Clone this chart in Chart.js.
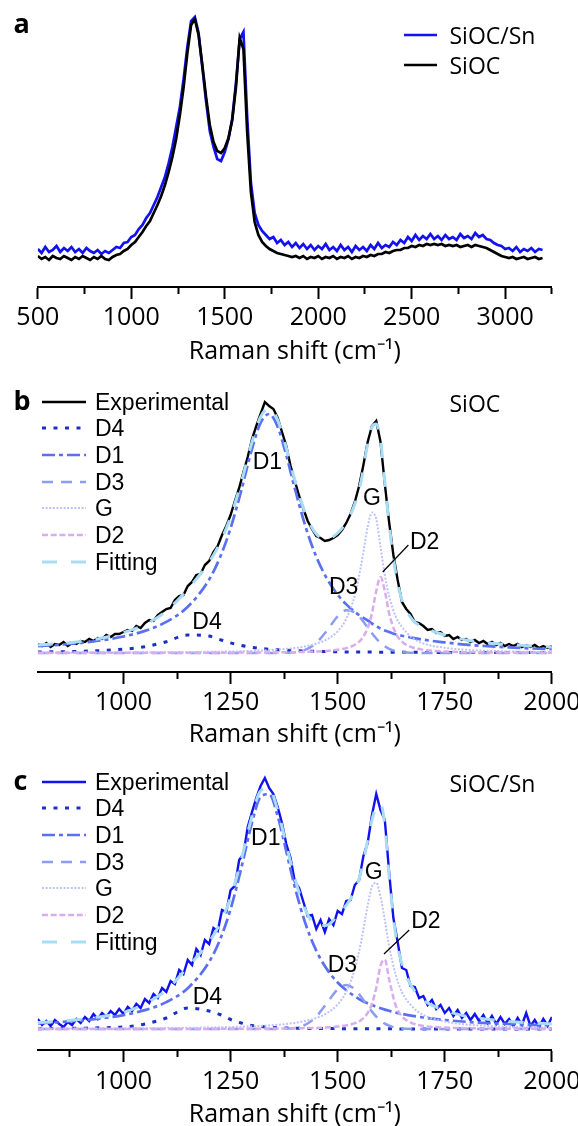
<!DOCTYPE html>
<html lang="en">
<head>
<meta charset="UTF-8">
<title>Raman spectra - SiOC and SiOC/Sn</title>
<script src="https://cdn.jsdelivr.net/npm/chart.js"></script>
<style>
  body { margin: 0; width: 578px; height: 1126px; overflow: hidden; position: relative; background: #fff; color: #000; }
  canvas { position: absolute; left: 0; }
  .tag { position: absolute; font: bold 27px/27px "Open Sans", sans-serif; }
  .name { position: absolute; font: 23px/26px "Open Sans", sans-serif; white-space: nowrap; }
  .leg { position: absolute; display: flex; align-items: center; height: 26px; white-space: nowrap; }
  .leg svg { display: block; }
</style>
</head>
<body>
<canvas id="chartA" width="600" height="367" style="top:0px"></canvas>
<canvas id="chartB" width="600" height="370" style="top:380px"></canvas>
<canvas id="chartC" width="600" height="370" style="top:760px"></canvas>

<div class="tag" style="left:13.5px; top:9px">a</div>
<div class="tag" style="left:13.5px; top:386px">b</div>
<div class="tag" style="left:13.5px; top:766px">c</div>
<div class="name" style="left:449.5px; top:389.7px">SiOC</div>
<div class="name" style="left:449.5px; top:769.7px">SiOC/Sn</div>

<script>
// ---- panel a : full spectra ----
const shiftA = [500,520,540,560,580,600,620,640,660,680,700,720,740,760,780,800,820,840,860,880,900,920,940,960,980,1000,1020,1040,1060,1080,1100,1120,1140,1160,1180,1200,1220,1240,1260,1280,1300,1320,1340,1360,1380,1400,1420,1440,1460,1480,1500,1520,1540,1560,1580,1600,1620,1640,1660,1680,1700,1720,1740,1760,1780,1800,1820,1840,1860,1880,1900,1920,1940,1960,1980,2000,2020,2040,2060,2080,2100,2120,2140,2160,2180,2200,2220,2240,2260,2280,2300,2320,2340,2360,2380,2400,2420,2440,2460,2480,2500,2520,2540,2560,2580,2600,2620,2640,2660,2680,2700,2720,2740,2760,2780,2800,2820,2840,2860,2880,2900,2920,2940,2960,2980,3000,3020,3040,3060,3080,3100,3120,3140,3160,3180,3200];
const siocA = [31,28,30,27,31,29,28,31,29,27, 30,28,31,29,27,30,28,31,28,27, 30,32,33,36,38,42,45,50,55,61, 66,74,82,91,102,115,130,148,172,200, 234,262,268,252,222,190,162,145,136,134, 139,149,167,200,249,238,155,95,65,52, 45,41,38,36,34,33,32,31,30,31, 29,31,28,30,29,31,28,30,29,31, 28,30,29,31,28,30,29,31,30,32, 31,33,33,35,34,36,37,37,39,39, 41,40,42,41,43,42,43,42,43,41, 42,41,42,40,41,42,40,42,41,40, 39,37,35,33,31,30,29,30,28,29, 30,28,29,30,28,29];
const siocSnA = [38,34,40,35,37,41,35,39,36,40, 35,38,34,39,36,34,37,33,36,34, 37,40,39,44,45,50,52,58,62,69, 74,82,90,100,110,124,140,160,180,208, 240,266,270,254,220,186,156,140,128,126, 135,148,168,204,248,255,170,104,74,62, 56,52,48,50,44,47,42,45,40,44, 39,43,38,42,37,41,38,43,37,40, 36,42,37,40,35,41,37,40,36,42, 38,44,39,42,40,45,42,47,44,50, 46,52,47,51,48,53,48,51,47,52, 48,50,47,53,49,51,48,54,50,52, 48,47,44,42,41,38,39,36,40,35, 38,36,39,35,38,37];
const ticksA = [500,750,1000,1250,1500,1750,2000,2250,2500,2750,3000,3250];

// ---- panels b and c : measured spectra ----
const shiftExp = [800,810,820,830,840,850,860,870,880,890,900,910,920,930,940,950,960,970,980,990,1000,1010,1020,1030,1040,1050,1060,1070,1080,1090,1100,1110,1120,1130,1140,1150,1160,1170,1180,1190,1200,1210,1220,1230,1240,1250,1260,1270,1280,1290,1300,1310,1320,1330,1340,1350,1360,1370,1380,1390,1400,1410,1420,1430,1440,1450,1460,1470,1480,1490,1500,1510,1520,1530,1540,1550,1560,1570,1580,1590,1600,1610,1620,1630,1640,1650,1660,1670,1680,1690,1700,1710,1720,1730,1740,1750,1760,1770,1780,1790,1800,1810,1820,1830,1840,1850,1860,1870,1880,1890,1900,1910,1920,1930,1940,1950,1960,1970,1980,1990,2000];
const expB = [28,26,29,25,28,27,30,26,29,28, 31,30,33,31,34,33,37,35,38,38, 40,42,41,46,44,49,52,51,57,60, 63,64,72,76,77,86,90,97,98,107, 111,120,126,137,146,157,171,184,200,215, 233,246,258,270,266,263,254,240,226,206, 191,176,163,151,143,136,134,131,132,134, 137,142,149,158,170,186,207,230,246,251, 230,188,150,117,92,70,63,58,50,49, 46,42,43,39,40,36,37,33,35,32, 33,30,32,29,31,28,30,27,29,26, 28,26,28,25,27,25,27,24,26,24, 26];
const expC = [31,25,29,24,30,26,23,28,25,31, 27,33,29,36,31,37,33,39,35,41, 36,43,39,46,42,51,47,56,52,62, 58,69,66,80,76,90,85,101,95,110, 106,122,119,140,138,160,164,190,196,223, 238,252,264,272,262,256,243,227,206,192, 168,162,148,134,135,121,130,118,131,125, 139,136,149,150,165,170,194,207,235,256, 240,230,178,132,108,82,80,64,63,52, 54,45,50,41,45,37,42,34,40,32, 37,30,36,29,35,27,34,26,33,26, 31,24,32,25,37,24,30,23,31,24, 33];

// ---- fitted components ----
const shiftFit = [800,850,900,950,1000,1050,1100,1150,1200,1225,1250,1275,1300,1320,1340,1360,1380,1400,1425,1450,1475,1500,1520,1540,1555,1570,1580,1590,1600,1610,1620,1635,1650,1675,1700,1750,1800,1850,1900,1950,2000];
const fitB = [27,28.5,30.5,34,39.5,47.5,61,83,110,129,155,190,230,255,264,252,224,192,158,138,133,139,150,168,192,228,245,248,232,190,148,100,72,52,45,37,32,29,27.5,26,25];
const d1B = [25.8,27.2,29.1,31.7,35.5,41.1,50.1,65.2,92.5,114.3,143.8,181.7,223.2,249.2,258,245.1,216.8,183.4,145.2,115.3,93.3,77.3,67.6,60.1,55.4,51.5,48.5,46,43.5,41.5,40,37.8,36.2,34.2,32.3,29.6,27.3,25.8,24.6,23.6,22.8];
const d4B = [20,20.3,20.7,21.5,22.8,25.3,30.3,37,35.9,32.4,29.1,26.5,24.7,23.6,22.8,22.2,21.7,21.3,20.9,20.6,20.4,20.2,20.1,20,20,19.9,19.9,19.9,19.8,19.8,19.8,19.8,19.7,19.7,19.6,19.6,19.5,19.5,19.5,19.4,19.4];
const d3B = [19,19,19,19,19,19,19,19,19,19,19,19,19,19,19,19.1,19.2,19.8,22.3,29.1,41.5,55.6,61.7,59.6,53.1,44.5,38.7,33.5,29.1,25.7,23.2,20.9,19.8,19.2,19,19,19,19,19,19,19];
const gB = [19.3,19.3,19.4,19.4,19.5,19.6,19.7,19.9,20.2,20.3,20.5,20.7,21.1,21.5,21.9,22.4,23.1,24,25.7,28.3,32.6,40.7,53.1,76.8,107.4,145.2,159.6,153,125,97,76,56,45,34,28.5,24.2,22.2,21.2,20.6,20.2,20];
const d2B = [19.2,19.2,19.2,19.2,19.2,19.2,19.2,19.3,19.3,19.3,19.3,19.4,19.4,19.5,19.5,19.6,19.7,19.8,20.1,20.5,21.1,22.2,23.9,27.3,32.6,44,58.8,81,95,81,58.8,39.1,30.4,24.5,22.2,20.5,19.8,19.5,19.4,19.3,19.3];

const fitC = [27.4,28.8,30.8,33.6,37.6,46.3,59.9,83.1,108.3,126.3,152.5,190.5,233.8,259.1,261.6,239.8,205.5,171.5,140,124.4,124.8,134.6,144.8,159.4,179.2,209.6,230.1,243.1,245.9,224.5,174,116,86,62,50,39.6,33.8,30.7,28.6,27.1,26.1];
const d1C = [26.6,27.8,29.4,31.7,34.9,39.9,47.9,61.8,88.2,110,140.9,182,227.3,253.2,255.8,233.8,198.6,162.8,126.1,99.4,80.7,67.5,59.7,53.6,49.8,46.7,44.9,43.2,41.7,40.4,39.2,37.5,36.1,34.1,32.5,30,28.2,26.9,26,25.2,24.6];
const d4C = [21.3,21.5,21.8,22.2,23,26,32,42,39,35.5,30.5,27,24.5,23.5,22.8,22.3,22,21.8,21.6,21.5,21.4,21.4,21.3,21.3,21.3,21.2,21.2,21.2,21.2,21.2,21.2,21.1,21.1,21.1,21.1,21.1,21,21,21,21,21];
const d3C = [21,21,21,21,21,21,21,21,21,21,21,21,21,21,21,21,21.3,22.1,25.3,33.4,47.1,60.7,65,60.7,53.1,44.1,38.4,33.4,29.4,26.4,24.3,22.4,21.6,21.1,21,21,21,21,21,21,21];
const gC = [21.4,21.4,21.5,21.6,21.6,21.8,21.9,22.2,22.5,22.7,22.9,23.3,23.7,24.1,24.6,25.2,26,27.1,29.1,32,36.9,45.6,58.2,81,108.9,144.5,163.4,167.1,153.3,130.1,104,76,58,43,35,28.5,25.5,24.1,23.2,22.7,22.3];
const d2C = [21.1,21.1,21.1,21.1,21.1,21.1,21.1,21.1,21.1,21.2,21.2,21.2,21.3,21.3,21.4,21.5,21.6,21.7,21.9,22.1,22.6,23.4,24.6,26.8,30.1,37.1,46.2,62.2,84.3,90.4,70.9,45,33.6,26.7,24.1,22.4,21.8,21.5,21.3,21.2,21.2];

const ticksBC = [875,1000,1125,1250,1375,1500,1625,1750,1875,2000];

// peak names and where they sit (x in cm-1, y in intensity)
const peakNames = ['D1','G','D2','D3','D4'];
const peakXB = [1336,1580,1703,1514,1195];
const peakYB = [209,173.5,129.5,84,49.5];
const peakXC = [1332,1584,1706,1511,1196];
const peakYC = [211.7,177,128,84.7,52.5];
const leaderB = [1605,100,1665,127];
const leaderC = [1608,96,1667,120];

// line styles
const stBlackA = {color:'#000000', width:2.7, dash:[]};
const stBlueA  = {color:'#1212f0', width:2.7, dash:[]};
const stBlack = {color:'#000000', width:2.4, dash:[]};
const stBlue  = {color:'#1212f0', width:2.4, dash:[]};
const stD4  = {color:'#1c2fc4', width:3,   dash:[4,7.5]};
const stD1  = {color:'#5a70f0', width:2.7, dash:[13,4,4,4]};
const stD3  = {color:'#8c9cf2', width:2.5, dash:[11,8]};
const stG   = {color:'#bcc3f7', width:2,   dash:[2,1.6]};
const stD2  = {color:'#d9acf0', width:2.5, dash:[6,2.7]};
const stFit = {color:'#a9dcf5', width:3,   dash:[15,14]};

function ds(label, xs, ys, st, smooth) {
    return {
        label: label,
        data: xs.map((x, i) => ({x: x, y: ys[i]})),
        borderColor: st.color,
        borderWidth: st.width,
        borderDash: st.dash,
        pointRadius: 0,
        fill: false,
        tension: 0,
        cubicInterpolationMode: smooth ? 'monotone' : 'default'
    };
}

// draws the peak names and the little pointer line for D2
const peakLabels = {
    id: 'peakLabels',
    afterDatasetsDraw(chart, args, opts) {
        if (!opts.xs) return;
        const ctx = chart.ctx, x = chart.scales.x, y = chart.scales.y;
        ctx.save();
        ctx.font = '23px "Liberation Sans", Arial, sans-serif';
        ctx.fillStyle = '#000';
        ctx.textAlign = 'center';
        ctx.textBaseline = 'middle';
        peakNames.forEach((n, i) => {
            ctx.fillText(n, x.getPixelForValue(opts.xs[i]), y.getPixelForValue(opts.ys[i]));
        });
        const l = opts.leader;
        ctx.beginPath();
        ctx.moveTo(x.getPixelForValue(l[0]), y.getPixelForValue(l[1]));
        ctx.lineTo(x.getPixelForValue(l[2]), y.getPixelForValue(l[3]));
        ctx.lineWidth = 1.2;
        ctx.strokeStyle = '#000';
        ctx.stroke();
        ctx.restore();
    }
};

function makeChart(id, datasets, xmin, xmax, ymax, tickList, major, boxH, labelPad, peaks) {
    return new Chart(document.getElementById(id), {
        type: 'line',
        data: { datasets: datasets },
        plugins: [peakLabels],
        options: {
            responsive: false,
            animation: false,
            devicePixelRatio: 1,
            layout: { padding: { left: 37.8, right: 48.1, top: 0, bottom: 0 } },
            plugins: {
                legend: { display: false },
                tooltip: { enabled: false },
                peakLabels: peaks || {}
            },
            scales: {
                x: {
                    type: 'linear',
                    min: xmin,
                    max: xmax,
                    afterBuildTicks: s => { s.ticks = tickList.map(v => ({value: v})); },
                    afterFit: s => { s.height = boxH; },
                    border: { display: true, color: '#000', width: 2 },
                    grid: {
                        display: true,
                        drawOnChartArea: false,
                        drawTicks: true,
                        tickLength: 12,
                        tickWidth: 2,
                        tickColor: '#000',
                        tickBorderDash: c => (c.tick && c.tick.value % major === 0) ? [] : [6, 40]
                    },
                    ticks: {
                        autoSkip: false,
                        maxRotation: 0,
                        padding: labelPad,
                        color: '#000',
                        font: { family: 'Open Sans', size: 25 },
                        callback: v => (v % major === 0 ? String(v) : '')
                    },
                    title: {
                        display: true,
                        text: 'Raman shift (cm⁻¹)',
                        color: '#000',
                        font: { family: 'Open Sans', size: 25 },
                        padding: { top: 0, bottom: 0 }
                    }
                },
                y: { type: 'linear', display: false, min: 0, max: ymax }
            }
        }
    });
}

makeChart('chartA', [
    ds('SiOC', shiftA, siocA, stBlackA, false),
    ds('SiOC/Sn', shiftA, siocSnA, stBlueA, false)
], 500, 3250, 287, ticksA, 500, 80, 4, null);

makeChart('chartB', [
    ds('Fitting', shiftFit, fitB, stFit, true),
    ds('D2', shiftFit, d2B, stD2, true),
    ds('G', shiftFit, gB, stG, true),
    ds('D3', shiftFit, d3B, stD3, true),
    ds('D1', shiftFit, d1B, stD1, true),
    ds('D4', shiftFit, d4B, stD4, true),
    ds('Experimental', shiftExp, expB, stBlack, false)
], 800, 2000, 292, ticksBC, 250, 78, 4, {xs: peakXB, ys: peakYB, leader: leaderB});

makeChart('chartC', [
    ds('Fitting', shiftFit, fitC, stFit, true),
    ds('D2', shiftFit, d2C, stD2, true),
    ds('G', shiftFit, gC, stG, true),
    ds('D3', shiftFit, d3C, stD3, true),
    ds('D1', shiftFit, d1C, stD1, true),
    ds('D4', shiftFit, d4C, stD4, true),
    ds('Experimental', shiftExp, expC, stBlue, false)
], 800, 2000, 290, ticksBC, 250, 80, 5, {xs: peakXC, ys: peakYC, leader: leaderC});

// legends as html rows with a short sample line
function addLegend(left, top0, rowH, items, lineLen, gap, font) {
    const ns = 'http://www.w3.org/2000/svg';
    items.forEach((it, k) => {
        const row = document.createElement('div');
        row.className = 'leg';
        row.style.left = left + 'px';
        row.style.top = (top0 + k * rowH) + 'px';
        const svg = document.createElementNS(ns, 'svg');
        svg.setAttribute('width', lineLen);
        svg.setAttribute('height', 10);
        const ln = document.createElementNS(ns, 'line');
        ln.setAttribute('x1', 0); ln.setAttribute('y1', 5);
        ln.setAttribute('x2', lineLen); ln.setAttribute('y2', 5);
        ln.setAttribute('stroke', it[1].color);
        ln.setAttribute('stroke-width', it[1].width);
        if (it[1].dash.length) ln.setAttribute('stroke-dasharray', it[1].dash.join(' '));
        svg.appendChild(ln);
        const sp = document.createElement('span');
        sp.textContent = it[0];
        sp.style.marginLeft = gap + 'px';
        sp.style.font = font;
        row.appendChild(svg);
        row.appendChild(sp);
        document.body.appendChild(row);
    });
}

addLegend(404, 21.5, 30, [['SiOC/Sn', stBlueA], ['SiOC', stBlackA]], 33, 12.5, '23px/26px "Open Sans", sans-serif');
const fitNames = ['D4','D1','D3','G','D2','Fitting'];
const fitStyles = [stD4, stD1, stD3, stG, stD2, stFit];
addLegend(42, 388.7, 26.67, [['Experimental', stBlack]].concat(fitNames.map((n, i) => [n, fitStyles[i]])), 44, 9, '23px/26px "Liberation Sans", Arial, sans-serif');
addLegend(42, 768.7, 26.67, [['Experimental', stBlue]].concat(fitNames.map((n, i) => [n, fitStyles[i]])), 44, 9, '23px/26px "Liberation Sans", Arial, sans-serif');
</script>
</body>
</html>
